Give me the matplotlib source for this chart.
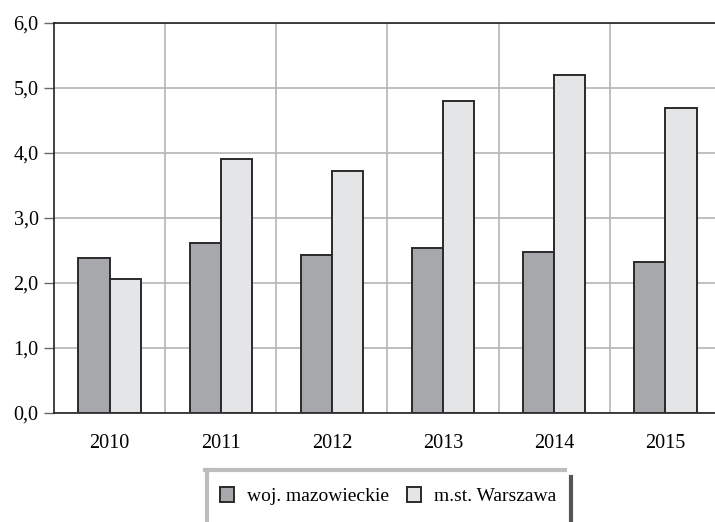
import matplotlib.pyplot as plt
from matplotlib.lines import Line2D
import numpy as np

years = ['2010', '2011', '2012', '2013', '2014', '2015']
mazowieckie = [2.39, 2.62, 2.43, 2.54, 2.47, 2.32]
warszawa = [2.06, 3.91, 3.73, 4.80, 5.20, 4.69]

plt.rcParams['font.family'] = ['Liberation Serif', 'DejaVu Serif']

fig = plt.figure(figsize=(7.15, 5.22), dpi=100)
ax = fig.add_axes([54 / 715, 109 / 522, 667 / 715, 390 / 522])

x = np.arange(len(years))
w = 0.28
ax.bar(x - w / 2, mazowieckie, w, color='#a7a8ab', edgecolor='#2a2a2a',
       linewidth=1.4, label='woj. mazowieckie', zorder=3)
ax.bar(x + w / 2, warszawa, w, color='#e4e5e7', edgecolor='#2a2a2a',
       linewidth=1.4, label='m.st. Warszawa', zorder=3)

ax.set_xlim(-0.5, len(years) - 0.5)
ax.set_ylim(0, 6)
ax.set_yticks(np.arange(0, 6.1, 1))
ax.set_yticklabels([f'{v:.1f}'.replace('.', ',') for v in np.arange(0, 6.1, 1)])
ax.set_xticks(x)
ax.set_xticklabels(years)
ax.set_xticks(np.arange(0.5, len(years) - 0.5, 1), minor=True)

ax.grid(axis='y', which='major', color='#b5b5b5', linewidth=1.2, zorder=0)
ax.grid(axis='x', which='minor', color='#b5b5b5', linewidth=1.2, zorder=0)
ax.tick_params(axis='x', which='both', length=0, pad=15, labelsize=14.5)
ax.tick_params(axis='y', length=7, width=1, color='#666666', pad=4, labelsize=14.5)

for s in ['left', 'bottom', 'top']:
    ax.spines[s].set_color('#222222')
    ax.spines[s].set_linewidth(1.2)
ax.spines['right'].set_visible(False)

fig.legend(loc='center', bbox_to_anchor=(388 / 715, 1 - 496 / 522), ncol=2,
           fontsize=14, frameon=False, handlelength=0.75, handleheight=0.8,
           handletextpad=0.65, columnspacing=0.9)

# legend box: light top/left border, dark right border, cut off at the bottom
fig.add_artist(Line2D([205 / 715, 565 / 715], [1 - 470 / 522, 1 - 470 / 522],
                      color='#bdbdc0', linewidth=3, transform=fig.transFigure))
fig.add_artist(Line2D([207 / 715, 207 / 715], [1 - 470 / 522, 1 - 521 / 522],
                      color='#bdbdc0', linewidth=3, transform=fig.transFigure))
fig.add_artist(Line2D([571 / 715, 571 / 715], [1 - 477 / 522, 0],
                      color='#555555', linewidth=3, transform=fig.transFigure))

fig.savefig('out.png', dpi=100)
